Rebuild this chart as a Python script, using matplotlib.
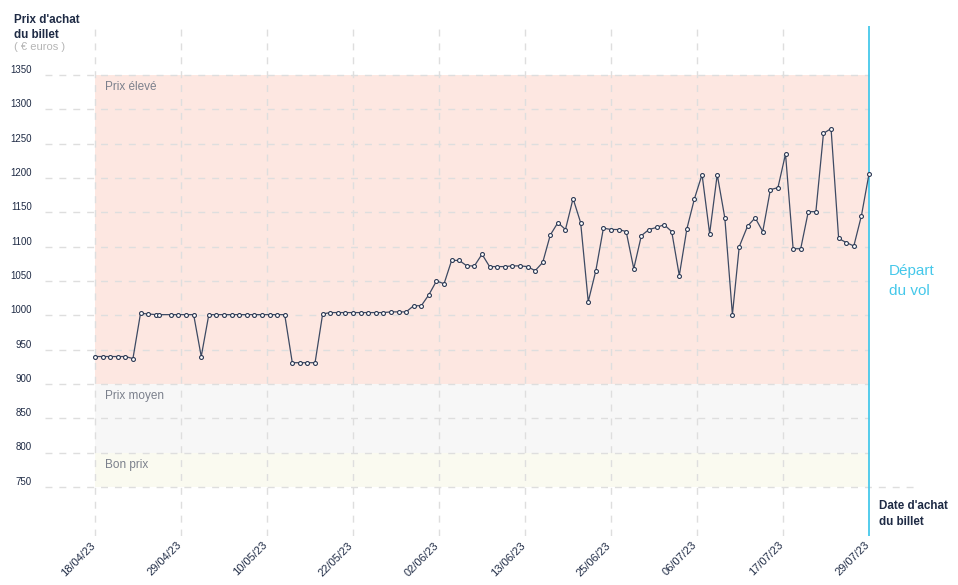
import matplotlib
matplotlib.use('Agg')

import matplotlib.pyplot as plt
import matplotlib.transforms as mtransforms
import numpy as np

plt.rcParams['font.family'] = ['Liberation Sans', 'DejaVu Sans']

# days since 18/04/23 and ticket price in euros
days = [0, 1, 2, 3, 4, 5, 6, 7, 8, 8.4,
        10, 11, 12, 13, 14, 15, 16, 17, 18, 19,
        20, 21, 22, 23, 24, 25, 26, 27, 28, 29,
        30, 31, 32, 33, 34, 35, 36, 37, 38, 39,
        40, 41, 42, 43, 44, 45, 46, 47, 48, 49,
        50, 51, 52, 53, 54, 55, 56, 57, 58, 59,
        60, 61, 62, 63, 64, 65, 66, 67, 68, 69,
        70, 71, 72, 73, 74, 75, 76, 77, 78, 79,
        80, 81, 82, 83, 84, 84.9, 86, 87, 88, 89,
        90, 91, 92, 93, 94, 95, 96, 97, 98, 99,
        100, 101, 102]
prices = [940, 940, 940, 940, 940, 937, 1003, 1002, 1001, 1001,
          1001, 1001, 1001, 1001, 940, 1001, 1001, 1001, 1001, 1001,
          1001, 1001, 1001, 1001, 1001, 1001, 931, 931, 931, 931,
          1002, 1004, 1004, 1004, 1004, 1004, 1004, 1004, 1004, 1005,
          1005, 1005, 1014, 1014, 1030, 1050, 1046, 1080, 1080, 1072,
          1072, 1089, 1071, 1071, 1071, 1072, 1072, 1071, 1065, 1077,
          1117, 1135, 1125, 1170, 1135, 1020, 1065, 1127, 1125, 1125,
          1122, 1068, 1116, 1125, 1128, 1132, 1122, 1058, 1126, 1170,
          1205, 1119, 1205, 1142, 1001, 1100, 1130, 1142, 1122, 1183,
          1186, 1235, 1097, 1097, 1151, 1151, 1265, 1272, 1112, 1106,
          1101, 1145, 1206]

tick_labels = ['18/04/23', '29/04/23', '10/05/23', '22/05/23', '02/06/23',
               '13/06/23', '25/06/23', '06/07/23', '17/07/23', '29/07/23']
y_ticks = [750, 800, 850, 900, 950, 1000, 1050, 1100, 1150, 1200, 1250, 1300, 1350]

band_names = ['Prix élevé', 'Prix moyen', 'Bon prix']
band_low = [900, 800, 750]
band_high = [1350, 900, 800]
band_colors = ['#fde7e1', '#f7f7f7', '#fafaf0']

NAVY = '#1f2b45'
GRID = '#dedede'
CYAN = '#45c8ea'

W, H = 958, 585
fig = plt.figure(figsize=(W / 100, H / 100), dpi=100)
ax = fig.add_axes([45 / W, 1 - 536 / H, 873 / W, 510 / H])

last = days[-1]
px_day = 774 / last
px_unit = 34.31 / 50
ax.set_xlim(-50 / px_day, last + 49 / px_day)
ax.set_ylim(750 - 49 / px_unit, 1350 + 49 / px_unit)
for s in ax.spines.values():
    s.set_visible(False)

# price bands
for name, lo, hi, c in zip(band_names, band_low, band_high, band_colors):
    ax.fill_between([0, last], lo, hi, color=c, lw=0, zorder=0)
    ax.text(1.3, hi - 18, name, color='#7b808c', fontsize=8.5, va='center', ha='left', zorder=3)

# grid
x0, x1 = ax.get_xlim()
for v in y_ticks:
    right = x1 if v == 750 else last
    ax.plot([x0, right], [v, v], color=GRID, lw=1, ls=(0, (5, 5)), zorder=1)
    ax.text(-0.015, v + 7.5, str(v), transform=ax.get_yaxis_transform(),
            ha='right', va='center', fontsize=7, color=NAVY)
tick_pos = np.linspace(0, last, len(tick_labels))
for t in tick_pos[:-1]:
    ax.axvline(t, color=GRID, lw=1, ls=(0, (5, 5)), zorder=1)
ax.axvline(last, color=CYAN, lw=1.3, zorder=4)

ax.set_xticks(tick_pos, tick_labels, rotation=45, ha='right', rotation_mode='anchor',
              fontsize=8, color=NAVY)
ax.tick_params(axis='x', length=0, pad=3)
shift = mtransforms.ScaledTranslation(-5 / 100, 0, fig.dpi_scale_trans)
for lab in ax.get_xticklabels():
    lab.set_transform(lab.get_transform() + shift)
ax.set_yticks([])

ax.plot(days, prices, color='#3d4a63', lw=0.9, marker='o', ms=2.8, mfc='white',
        mec='#2b3752', mew=0.8, zorder=5, clip_on=False)

# labels
fig.text(14 / W, 1 - 23 / H, "Prix d'achat", fontsize=8.4, fontweight='bold', color=NAVY, va='baseline')
fig.text(14 / W, 1 - 38 / H, "du billet", fontsize=8.4, fontweight='bold', color=NAVY, va='baseline')
fig.text(14 / W, 1 - 47 / H, "( € euros )", fontsize=8, color='#b5b5b5', va='center')

fig.text(889 / W, 1 - 275 / H, "Départ", fontsize=11, color=CYAN, va='baseline')
fig.text(889 / W, 1 - 295 / H, "du vol", fontsize=11, color=CYAN, va='baseline')

fig.text(879 / W, 1 - 509 / H, "Date d'achat", fontsize=8.4, fontweight='bold', color=NAVY, va='baseline')
fig.text(879 / W, 1 - 525 / H, "du billet", fontsize=8.4, fontweight='bold', color=NAVY, va='baseline')

fig.savefig('out.png', dpi=100)
